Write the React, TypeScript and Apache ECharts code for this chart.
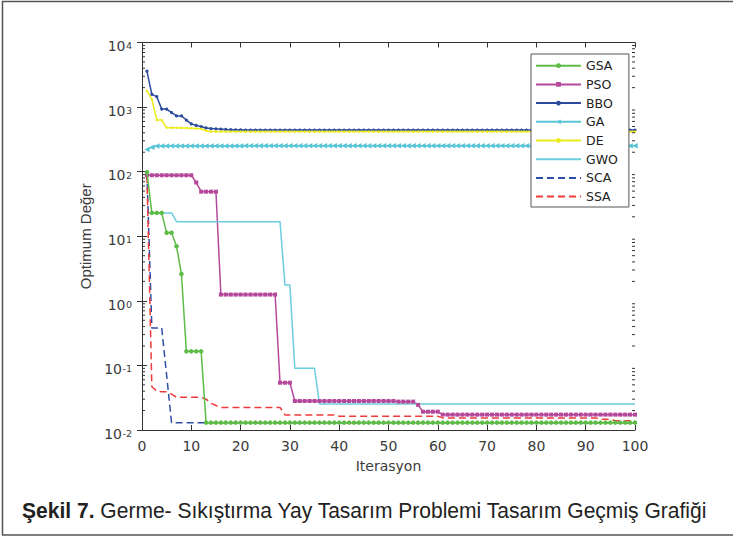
import React, { useEffect, useRef } from 'react';
import * as echarts from 'echarts';

const FONT = "'Liberation Sans', Arial, Helvetica, sans-serif";
const WIDE = "'DejaVu Sans', 'Liberation Sans', Arial, sans-serif";

// iterations 1..100
const iterations: number[] = Array.from({ length: 100 }, (_, i) => i + 1);

const seriesNames = ['GSA', 'PSO', 'BBO', 'GA', 'DE', 'GWO', 'SCA', 'SSA'];
const noMarkerSeries = ['GWO', 'SCA', 'SSA'];

const gsa = [
  98, 23, 23, 23, 11.3, 11.3, 7.0, 2.6, 0.165, 0.165,
  0.165, 0.165, 0.013, 0.013, 0.013, 0.013, 0.013, 0.013, 0.013, 0.013,
  0.013, 0.013, 0.013, 0.013, 0.013, 0.013, 0.013, 0.013, 0.013, 0.013,
  0.013, 0.013, 0.013, 0.013, 0.013, 0.013, 0.013, 0.013, 0.013, 0.013,
  0.013, 0.013, 0.013, 0.013, 0.013, 0.013, 0.013, 0.013, 0.013, 0.013,
  0.013, 0.013, 0.013, 0.013, 0.013, 0.013, 0.013, 0.013, 0.013, 0.013,
  0.013, 0.013, 0.013, 0.013, 0.013, 0.013, 0.013, 0.013, 0.013, 0.013,
  0.013, 0.013, 0.013, 0.013, 0.013, 0.013, 0.013, 0.013, 0.013, 0.013,
  0.013, 0.013, 0.013, 0.013, 0.013, 0.013, 0.013, 0.013, 0.013, 0.013,
  0.013, 0.013, 0.013, 0.013, 0.013, 0.013, 0.013, 0.013, 0.013, 0.013,
];

const pso = [
  88, 88, 88, 88, 88, 88, 88, 88, 88, 88,
  68, 49, 49, 49, 49, 1.25, 1.25, 1.25, 1.25, 1.25,
  1.25, 1.25, 1.25, 1.25, 1.25, 1.25, 1.25, 0.054, 0.054, 0.054,
  0.0281, 0.0281, 0.0281, 0.0281, 0.0281, 0.0281, 0.0281, 0.0281, 0.0281, 0.0281,
  0.0281, 0.0281, 0.0281, 0.0281, 0.0281, 0.0281, 0.0281, 0.0281, 0.0281, 0.0281,
  0.0281, 0.0275, 0.0275, 0.0275, 0.0275, 0.0245, 0.0192, 0.0192, 0.0192, 0.0192,
  0.0173, 0.0173, 0.0173, 0.0173, 0.0173, 0.0173, 0.0173, 0.0173, 0.0173, 0.0173,
  0.0173, 0.0173, 0.0173, 0.0173, 0.0173, 0.0173, 0.0173, 0.0173, 0.0173, 0.0173,
  0.0173, 0.0173, 0.0173, 0.0173, 0.0173, 0.0173, 0.0173, 0.0173, 0.0173, 0.0173,
  0.0173, 0.0173, 0.0173, 0.0173, 0.0173, 0.0173, 0.0173, 0.0173, 0.0173, 0.0173,
];

const bbo = [
  3600, 1575, 1450, 930, 930, 820, 730, 730, 630, 550,
  520, 500, 475, 465, 460, 455, 450, 447, 445, 443,
  440, 440, 440, 440, 440, 440, 440, 440, 440, 440,
  440, 440, 440, 440, 440, 440, 440, 440, 440, 440,
  440, 440, 440, 440, 440, 440, 440, 440, 440, 440,
  440, 440, 440, 440, 440, 440, 440, 440, 440, 440,
  440, 440, 440, 440, 440, 440, 440, 440, 440, 440,
  440, 440, 440, 440, 440, 440, 440, 440, 440, 440,
  440, 440, 440, 440, 440, 440, 440, 440, 440, 440,
  440, 440, 440, 440, 440, 440, 440, 440, 440, 440,
];

const ga = [
  221, 238, 250, 250, 250, 250, 250, 250, 250, 250,
  250, 250, 250, 250, 250, 250, 250, 250, 250, 250,
  252, 252, 252, 252, 252, 252, 252, 252, 252, 252,
  252, 252, 252, 252, 252, 252, 252, 252, 252, 252,
  252, 252, 252, 252, 252, 252, 252, 252, 252, 252,
  253, 253, 253, 253, 253, 253, 253, 253, 253, 253,
  253, 253, 253, 253, 253, 253, 253, 253, 253, 253,
  253, 253, 253, 253, 253, 253, 253, 253, 253, 253,
  253, 253, 253, 253, 253, 253, 253, 253, 253, 253,
  253, 253, 253, 253, 253, 253, 253, 253, 253, 253,
];

const de = [
  1780, 1320, 630, 630, 482, 480, 478, 476, 474, 470,
  466, 462, 430, 418, 418, 418, 418, 418, 418, 418,
  418, 418, 418, 418, 418, 418, 418, 418, 418, 418,
  418, 418, 418, 418, 418, 418, 418, 418, 418, 418,
  418, 418, 418, 418, 418, 418, 418, 418, 418, 418,
  418, 418, 418, 418, 418, 418, 418, 418, 418, 418,
  418, 418, 418, 418, 418, 418, 418, 418, 418, 418,
  418, 418, 418, 418, 418, 418, 418, 418, 418, 418,
  418, 418, 418, 418, 418, 418, 418, 418, 418, 418,
  418, 418, 418, 418, 418, 418, 418, 418, 418, 418,
];

const gwo = [
  23, 23, 23, 23, 23, 23, 16.8, 16.8, 16.8, 16.8,
  16.8, 16.8, 16.8, 16.8, 16.8, 16.8, 16.8, 16.8, 16.8, 16.8,
  16.8, 16.8, 16.8, 16.8, 16.8, 16.8, 16.8, 16.8, 1.76, 1.76,
  0.09, 0.09, 0.09, 0.09, 0.09, 0.0253, 0.0253, 0.0253, 0.0253, 0.0253,
  0.0253, 0.0253, 0.0253, 0.0253, 0.0253, 0.0253, 0.0253, 0.0253, 0.0253, 0.0253,
  0.0253, 0.0253, 0.0253, 0.0253, 0.0253, 0.0253, 0.0253, 0.0253, 0.0253, 0.0253,
  0.0253, 0.0253, 0.0253, 0.0253, 0.0253, 0.0253, 0.0253, 0.0253, 0.0253, 0.0253,
  0.0253, 0.0253, 0.0253, 0.0253, 0.0253, 0.0253, 0.0253, 0.0253, 0.0253, 0.0253,
  0.0253, 0.0253, 0.0253, 0.0253, 0.0253, 0.0253, 0.0253, 0.0253, 0.0253, 0.0253,
  0.0253, 0.0253, 0.0253, 0.0253, 0.0253, 0.0253, 0.0253, 0.0253, 0.0253, 0.0253,
];

const sca = [
  95, 0.38, 0.38, 0.38, 0.07, 0.013, 0.013, 0.013, 0.013, 0.013,
  0.013, 0.013, 0.013, 0.013, 0.013, 0.013, 0.013, 0.013, 0.013, 0.013,
  0.013, 0.013, 0.013, 0.013, 0.013, 0.013, 0.013, 0.013, 0.013, 0.013,
  0.013, 0.013, 0.013, 0.013, 0.013, 0.013, 0.013, 0.013, 0.013, 0.013,
  0.013, 0.013, 0.013, 0.013, 0.013, 0.013, 0.013, 0.013, 0.013, 0.013,
  0.013, 0.013, 0.013, 0.013, 0.013, 0.013, 0.013, 0.013, 0.013, 0.013,
  0.013, 0.013, 0.013, 0.013, 0.013, 0.013, 0.013, 0.013, 0.013, 0.013,
  0.013, 0.013, 0.013, 0.013, 0.013, 0.013, 0.013, 0.013, 0.013, 0.013,
  0.013, 0.013, 0.013, 0.013, 0.013, 0.013, 0.013, 0.013, 0.013, 0.013,
  0.013, 0.013, 0.013, 0.013, 0.013, 0.013, 0.013, 0.013, 0.013, 0.013,
];

const ssa = [
  85, 0.0468, 0.040, 0.0392, 0.0392, 0.036, 0.0321, 0.0321, 0.0321, 0.0321,
  0.0321, 0.0321, 0.030, 0.0259, 0.024, 0.0224, 0.0224, 0.0224, 0.0224, 0.0224,
  0.0224, 0.0224, 0.0224, 0.0224, 0.0224, 0.0224, 0.0224, 0.0224, 0.0171, 0.0171,
  0.0171, 0.0171, 0.0171, 0.0171, 0.0171, 0.0171, 0.0171, 0.0171, 0.0171, 0.0163,
  0.0163, 0.0163, 0.0163, 0.0163, 0.0163, 0.0163, 0.0163, 0.0163, 0.0163, 0.0163,
  0.0163, 0.0163, 0.0163, 0.0163, 0.0163, 0.0163, 0.0163, 0.0163, 0.0163, 0.0163,
  0.0154, 0.0154, 0.0154, 0.0154, 0.0154, 0.0154, 0.0154, 0.0154, 0.0154, 0.0154,
  0.0154, 0.0154, 0.0154, 0.0154, 0.0154, 0.0154, 0.0154, 0.0154, 0.0154, 0.0154,
  0.0154, 0.0154, 0.0154, 0.0154, 0.0154, 0.0154, 0.0154, 0.0154, 0.0154, 0.0154,
  0.0154, 0.0154, 0.0147, 0.0147, 0.0147, 0.0139, 0.0139, 0.0139, 0.0139, 0.0139,
];

const minorMultipliers = [2, 3, 4, 5, 6, 7, 8, 9];
const minorDecades = [-2, -1, 0, 1, 2, 3];

const caption = { bold: 'Şekil 7.', regular: ' Germe- Sıkıştırma Yay Tasarım Problemi Tasarım Geçmiş Grafiği' };

const AXIS_COLOR = '#333';
const LABEL_COLOR = '#3a3a3a';

function measure(text: string, font: string): number {
  const c = document.createElement('canvas').getContext('2d');
  if (!c) return text.length * 10;
  c.font = font;
  return c.measureText(text).width;
}

export default function App() {
  const ref = useRef<HTMLDivElement>(null);

  useEffect(() => {
    if (!ref.current) return;
    const chart = echarts.init(ref.current, null, { renderer: 'svg' });

    const mk = (
      name: string,
      values: number[],
      color: string,
      o: { symbol?: string; size?: number; rotate?: number; dash?: any; z?: number } = {}
    ) => ({
      type: 'line',
      name,
      data: iterations.map((it, i) => [it, values[i]]),
      xAxisIndex: 0,
      yAxisIndex: 0,
      symbol: o.symbol ?? 'none',
      symbolSize: o.size ?? 4,
      symbolRotate: o.rotate ?? 0,
      showSymbol: !!o.symbol,
      showAllSymbol: true,
      lineStyle: { color, width: 1.5, type: o.dash ?? 'solid' },
      itemStyle: { color, borderWidth: 0 },
      emphasis: { disabled: true },
      z: o.z ?? 2,
      animation: false,
    });

    const minorTicks: number[][] = [];
    minorDecades.forEach((d) =>
      minorMultipliers.forEach((m) => minorTicks.push([0, m * Math.pow(10, d)]))
    );

    const capFontSize = 22;
    const wBold = measure(caption.bold, `bold ${capFontSize}px ${FONT}`);
    const wReg = measure(caption.regular, `${capFontSize}px ${FONT}`);
    const capScale = 686 / (wBold + wReg);

    const legendData = seriesNames.map((n) =>
      noMarkerSeries.includes(n)
        ? { name: n, itemStyle: { opacity: 0, color: 'rgba(0,0,0,0)' } }
        : { name: n }
    );

    const option: any = {
      animation: false,
      backgroundColor: '#fff',
      grid: { left: 142, right: 98, top: 42.5, bottom: 108, containLabel: false },
      xAxis: [
        {
          type: 'value',
          position: 'bottom',
          min: 0,
          max: 100,
          interval: 10,
          name: 'Iterasyon',
          nameLocation: 'middle',
          nameGap: 29,
          nameTextStyle: { fontFamily: WIDE, fontSize: 14, color: LABEL_COLOR },
          axisLine: { show: true, lineStyle: { color: AXIS_COLOR, width: 1 } },
          axisTick: { show: true, inside: true, length: 5, lineStyle: { color: AXIS_COLOR } },
          axisLabel: { fontFamily: WIDE, fontSize: 14, color: LABEL_COLOR, margin: 9 },
          splitLine: { show: false },
        },
        {
          type: 'value',
          position: 'top',
          min: 0,
          max: 100,
          interval: 10,
          axisLine: { show: true, lineStyle: { color: AXIS_COLOR, width: 1 } },
          axisTick: { show: true, inside: true, length: 5, lineStyle: { color: AXIS_COLOR } },
          axisLabel: { show: false },
          splitLine: { show: false },
        },
      ],
      yAxis: [
        {
          type: 'log',
          logBase: 10,
          position: 'left',
          min: 0.01,
          max: 10000,
          name: 'Optimum Değer',
          nameLocation: 'middle',
          nameGap: 42,
          nameTextStyle: { fontFamily: FONT, fontSize: 15, color: LABEL_COLOR },
          axisLine: { show: true, lineStyle: { color: AXIS_COLOR, width: 1 } },
          axisTick: { show: true, inside: true, length: 5, lineStyle: { color: AXIS_COLOR } },
          axisLabel: {
            margin: 10,
            formatter: (v: number) => `{b|10}{s|${Math.round(Math.log10(v))}}`,
            rich: {
              b: { fontFamily: WIDE, fontSize: 14, color: LABEL_COLOR, lineHeight: 14, padding: [7.4, 0, 0, 0] },
              s: { fontFamily: WIDE, fontSize: 9.5, color: LABEL_COLOR, lineHeight: 10, padding: [5.4, 0, 0, 0.5], verticalAlign: 'top' },
            },
          },
          splitLine: { show: false },
        },
        {
          type: 'log',
          logBase: 10,
          position: 'right',
          min: 0.01,
          max: 10000,
          axisLine: { show: true, lineStyle: { color: AXIS_COLOR, width: 1 } },
          axisTick: { show: true, inside: true, length: 5, lineStyle: { color: AXIS_COLOR } },
          axisLabel: { show: false },
          splitLine: { show: false },
        },
      ],
      legend: {
        orient: 'vertical',
        left: 531,
        top: 54,
        itemWidth: 45,
        itemHeight: 6,
        itemGap: 5.7,
        padding: [5.2, 11, 3.9, 4],
        backgroundColor: '#fff',
        borderColor: '#555',
        borderWidth: 1,
        borderRadius: 0,
        textStyle: { fontFamily: WIDE, fontSize: 12.5, color: '#222', lineHeight: 13 },
        data: legendData,
      },
      series: [
        mk('GSA', gsa, '#5dbb46', { symbol: 'circle', size: 4.5, z: 4 }),
        mk('PSO', pso, '#b5489a', { symbol: 'rect', size: 4 }),
        mk('BBO', bbo, '#2c4b9c', { symbol: 'circle', size: 3.2 }),
        mk('GA', ga, '#5bc5d8', { symbol: 'triangle', size: 5.5, rotate: 90 }),
        mk('DE', de, '#ecec1c', { symbol: 'circle', size: 2.5 }),
        mk('GWO', gwo, '#6dcde0'),
        mk('SCA', sca, '#2f4ea6', { dash: [7, 4] }),
        mk('SSA', ssa, '#ee3a3a', { dash: [7, 4] }),
        {
          type: 'custom',
          name: 'minorTicks',
          xAxisIndex: 0,
          yAxisIndex: 0,
          silent: true,
          clip: false,
          z: 6,
          data: minorTicks,
          encode: { x: 0, y: 1 },
          renderItem: (_params: any, api: any) => {
            const v = api.value(1);
            const l = api.coord([0, v]);
            const r = api.coord([100, v]);
            const st = { stroke: AXIS_COLOR, lineWidth: 1 };
            return {
              type: 'group',
              children: [
                { type: 'line', shape: { x1: l[0], y1: l[1], x2: l[0] + 3, y2: l[1] }, style: st },
                { type: 'line', shape: { x1: r[0] - 3, y1: r[1], x2: r[0], y2: r[1] }, style: st },
              ],
            };
          },
        },
      ],
      graphic: [
        {
          type: 'rect',
          silent: true,
          shape: { x: 2.5, y: 1.5, width: 740, height: 533.5 },
          style: { fill: 'none', stroke: '#555', lineWidth: 1.5 },
        },
        {
          type: 'text',
          silent: true,
          x: 22,
          y: 511,
          scaleX: capScale,
          style: {
            text: `{b|${caption.bold}}{r|${caption.regular}}`,
            verticalAlign: 'middle',
            align: 'left',
            rich: {
              b: { fontFamily: FONT, fontSize: capFontSize, fontWeight: 'bold', fill: '#222' },
              r: { fontFamily: FONT, fontSize: capFontSize, fill: '#222' },
            },
          },
        },
      ],
    };

    chart.setOption(option);
    return () => chart.dispose();
  }, []);

  return (
    <div
      ref={ref}
      style={{ position: 'fixed', left: 0, top: 0, width: 733, height: 538, background: '#fff' }}
    />
  );
}
